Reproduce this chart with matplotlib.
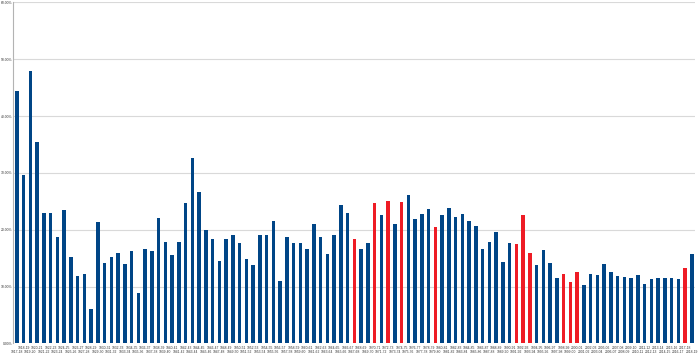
import matplotlib
matplotlib.use("Agg")
import matplotlib.pyplot as plt
from matplotlib.ticker import FuncFormatter

# seasons 1917-18 .. 2018-19, no 2004-05 (lockout)
start_years = [y for y in range(1917, 2019) if y != 2004]
seasons = [f"{y}-{str(y + 1)[-2:]}" for y in start_years]

values = [
    44.5, 29.6, 47.9, 35.4, 22.9, 22.9, 18.8, 23.4, 15.2, 11.9,
    12.3, 6.0, 21.4, 14.1, 15.2, 15.9, 13.9, 16.2, 8.9, 16.7,
    16.2, 22.1, 17.9, 15.5, 17.9, 24.7, 32.7, 26.7, 20.0, 18.4,
    14.5, 18.4, 19.1, 17.6, 14.8, 13.8, 19.1, 19.1, 21.5, 11.0,
    18.7, 17.6, 17.6, 16.7, 21.0, 18.7, 15.7, 19.1, 24.3, 22.9,
    18.3, 16.7, 17.6, 24.8, 22.6, 25.1, 21.0, 24.9, 26.2, 21.9,
    22.7, 23.7, 20.5, 22.6, 23.8, 22.3, 22.8, 21.5, 20.7, 16.6,
    17.8, 19.7, 14.4, 17.6, 17.5, 22.6, 16.0, 13.8, 16.4, 14.1,
    11.5, 12.2, 10.8, 12.5, 10.3, 12.3, 12.1, 13.9, 12.5, 11.9,
    11.7, 11.5, 12.1, 10.5, 11.3, 11.5, 11.5, 11.5, 11.3, 13.2,
    15.7,
]

# expansion seasons drawn in red
expansion = ["1967-68", "1970-71", "1972-73", "1974-75", "1979-80",
             "1991-92", "1992-93", "1993-94", "1998-99", "1999-00",
             "2000-01", "2017-18"]

BLUE = "#004586"
RED = "#ee1c25"

plt.rcParams["font.family"] = ["Liberation Sans", "DejaVu Sans"]

fig = plt.figure(figsize=(6.98, 3.54), dpi=100)
ax = fig.add_axes([0.0193, 0.0297, 0.9767, 0.9633])

x = list(range(len(seasons)))
colors = [RED if s in expansion else BLUE for s in seasons]
ax.bar(x, values, width=0.5, color=colors, linewidth=0, zorder=3)

ax.set_xlim(-0.5, len(seasons) - 0.5)
ax.set_ylim(0, 60)
ax.set_yticks(range(0, 61, 10))
ax.yaxis.set_major_formatter(FuncFormatter(lambda v, p: f"{v:.2f}%"))
ax.tick_params(axis="y", length=0, pad=0.6, labelsize=2.4, labelcolor="#333333")
ax.grid(True, axis="y", color="#d9d9d9", lw=0.8, zorder=0)

# staggered category labels: even index lower row, odd index upper row
ax.set_xticks(x)
ax.set_xticklabels([])
ax.tick_params(axis="x", length=0)
for i, s in enumerate(seasons):
    off = -6.0 if i % 2 == 0 else -3.2
    ax.annotate(s, (i, 0), xycoords=("data", "axes fraction"),
                xytext=(0, off), textcoords="offset points",
                ha="center", va="center", fontsize=2.4, color="#333333")

for side in ["top", "right", "bottom"]:
    ax.spines[side].set_visible(False)
ax.spines["left"].set_color("#b3b3b3")
ax.spines["left"].set_linewidth(0.8)

fig.savefig("out.png", dpi=100)
